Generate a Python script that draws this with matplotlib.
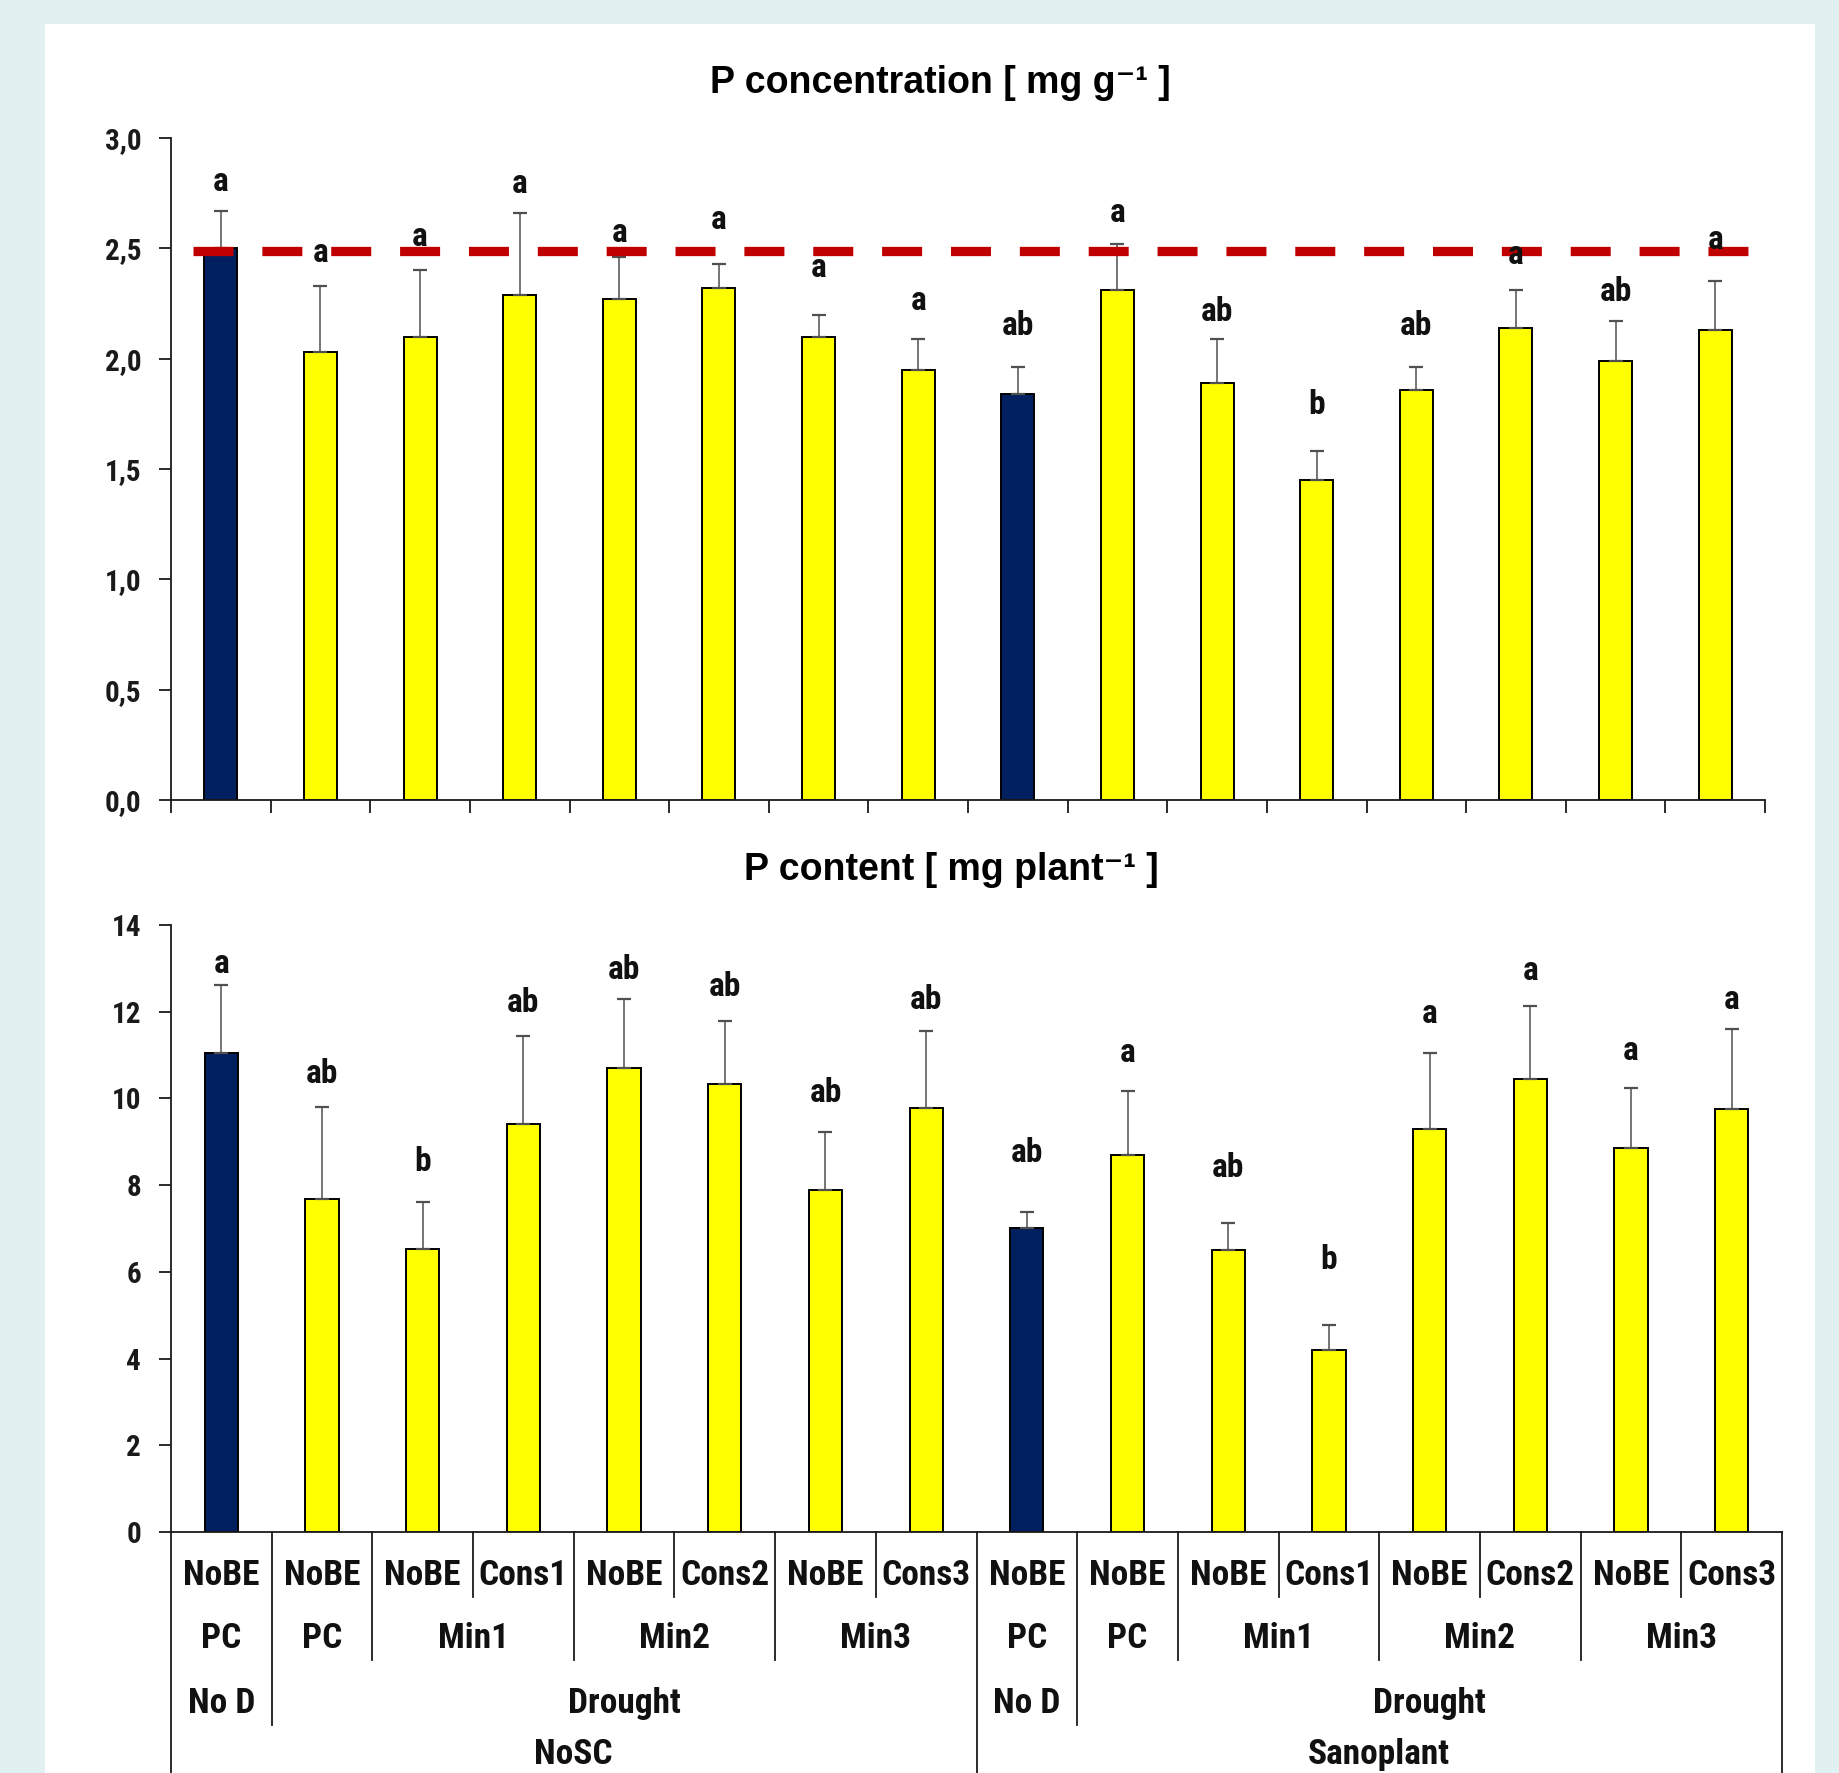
import numpy as np
import matplotlib.pyplot as plt
from matplotlib.patches import Rectangle

# --- datos ---
# P concentration [mg g-1]
conc_mean = [2.50, 2.03, 2.10, 2.29, 2.27, 2.32, 2.10, 1.95,
             1.84, 2.31, 1.89, 1.45, 1.86, 2.14, 1.99, 2.13]
conc_se = [0.17, 0.30, 0.30, 0.37, 0.19, 0.11, 0.10, 0.14,
           0.12, 0.21, 0.20, 0.13, 0.10, 0.17, 0.18, 0.22]
conc_letters = ['a', 'a', 'a', 'a', 'a', 'a', 'a', 'a',
                'ab', 'a', 'ab', 'b', 'ab', 'a', 'ab', 'a']
conc_letter_y = [2.80, 2.48, 2.55, 2.79, 2.57, 2.63, 2.41, 2.26,
                 2.15, 2.66, 2.21, 1.79, 2.15, 2.47, 2.30, 2.54]
conc_ref = 2.49
conc_ref_span = (-0.28, 15.34)
conc_ticks = [0.0, 0.5, 1.0, 1.5, 2.0, 2.5, 3.0]
conc_ticklabels = ['0,0', '0,5', '1,0', '1,5', '2,0', '2,5', '3,0']

# P content [mg plant-1]
cont_mean = [11.05, 7.69, 6.53, 9.42, 10.70, 10.34, 7.88, 9.78,
             7.01, 8.69, 6.50, 4.20, 9.29, 10.45, 8.85, 9.75]
cont_se = [1.57, 2.11, 1.08, 2.01, 1.59, 1.44, 1.35, 1.78,
           0.38, 1.49, 0.62, 0.57, 1.76, 1.68, 1.39, 1.84]
cont_letters = ['a', 'ab', 'b', 'ab', 'ab', 'ab', 'ab', 'ab',
                'ab', 'a', 'ab', 'b', 'a', 'a', 'a', 'a']
cont_letter_y = [13.11, 10.56, 8.53, 12.19, 12.97, 12.56, 10.13, 12.27,
                 8.75, 11.05, 8.39, 6.28, 11.94, 12.94, 11.10, 12.27]
cont_ticks = [0, 2, 4, 6, 8, 10, 12, 14]

# controles (sin sequia) en azul oscuro
is_control = [True, False, False, False, False, False, False, False,
              True, False, False, False, False, False, False, False]

# niveles del eje de categorias: (etiqueta, n de barras)
level1 = [(s, 1) for s in ['NoBE', 'NoBE', 'NoBE', 'Cons1', 'NoBE', 'Cons2', 'NoBE', 'Cons3'] * 2]
level2 = [('PC', 1), ('PC', 1), ('Min1', 2), ('Min2', 2), ('Min3', 2)] * 2
level3 = [('No D', 1), ('Drought', 7)] * 2
level4 = [('NoSC', 8), ('Sanoplant', 8)]

# --- estilo ---
W, H = 1839, 1773
BG = '#e1f1f2'
YELLOW = '#ffff00'
NAVY = '#002060'
RED = '#c00000'
BOLD = ['Liberation Sans', 'DejaVu Sans']
NARROW = ['Roboto Condensed', 'Liberation Sans Narrow', 'Liberation Sans', 'DejaVu Sans']

plt.rcParams['font.family'] = BOLD
plt.rcParams['font.weight'] = 'bold'

fig = plt.figure(figsize=(W / 100, H / 100), dpi=100)
fig.patch.set_facecolor(BG)
fig.patches.append(Rectangle((45 / W, 0), (1815 - 45) / W, 1 - 24 / H,
                             transform=fig.transFigure, facecolor='white',
                             edgecolor='none', zorder=-10))

ax1 = fig.add_axes([171 / W, 1 - 800 / H, (1765 - 171) / W, (800 - 138) / H])
ax2 = fig.add_axes([171 / W, 1 - 1532 / H, (1782 - 171) / W, (1532 - 925) / H])

x = np.arange(len(conc_mean))
colors = [NAVY if c else YELLOW for c in is_control]


def draw_bars(ax, mean, se, letters, letter_y):
    ax.bar(x, mean, width=0.33, color=colors, edgecolor='black',
           linewidth=1.4, zorder=2)
    ax.errorbar(x, mean, yerr=[np.zeros(len(se)), se], fmt='none',
                ecolor='#505050', elinewidth=1.1, capsize=5, capthick=1.6,
                zorder=3)
    for xi, lab, ly in zip(x, letters, letter_y):
        ax.text(xi, ly, lab, ha='center', va='center', fontsize=24,
                family=NARROW, fontweight='bold', color='#111111', zorder=5)


for ax in (ax1, ax2):
    ax.set_facecolor('none')
    ax.set_xlim(-0.5, len(x) - 0.5)
    for side in ('top', 'right'):
        ax.spines[side].set_visible(False)
    for side in ('left', 'bottom'):
        ax.spines[side].set_linewidth(1.3)
        ax.spines[side].set_color('#1a1a1a')
    ax.tick_params(axis='y', direction='out', length=8.5, width=1.3,
                   pad=13, labelsize=21, colors='#1a1a1a')
    for lab in ax.get_yticklabels():
        lab.set_family(NARROW)

# grafico superior
draw_bars(ax1, conc_mean, conc_se, conc_letters, conc_letter_y)
ax1.plot(conc_ref_span, [conc_ref, conc_ref], color=RED, lw=6.7,
         dashes=(4.3, 3.1), solid_capstyle='butt', dash_capstyle='butt',
         zorder=4)
ax1.set_ylim(0, 3)
ax1.set_yticks(conc_ticks)
ax1.set_yticklabels(conc_ticklabels, family=NARROW)
ax1.set_xticks(np.arange(-0.5, len(x), 1))
ax1.set_xticklabels([])
ax1.tick_params(axis='x', direction='out', length=9, width=1.3,
                colors='#1a1a1a')

# grafico inferior
draw_bars(ax2, cont_mean, cont_se, cont_letters, cont_letter_y)
ax2.set_ylim(0, 14)
ax2.set_yticks(cont_ticks)
ax2.set_yticklabels([str(t) for t in cont_ticks], family=NARROW)
ax2.set_xticks([])

# titulos
fig.text(940 / W, 1 - 93 / H, 'P concentration [ mg g\u207b\u00b9 ]',
         ha='center', va='baseline', fontsize=27, fontweight='bold')
fig.text(951 / W, 1 - 880 / H, 'P content [ mg plant\u207b\u00b9 ]',
         ha='center', va='baseline', fontsize=27, fontweight='bold')

# eje de categorias con varios niveles
levels = [level1, level2, level3, level4]
text_y = [-0.0873, -0.191, -0.298, -0.382]
line_y = [-0.107, -0.211, -0.318, -0.60]
trans = ax2.get_xaxis_transform()

depth = {}
for k, level in enumerate(levels):
    pos = 0
    depth[pos] = k
    for label, span in level:
        ax2.text(pos + span / 2 - 0.5, text_y[k], label, transform=trans,
                 ha='center', va='baseline', fontsize=25.5, family=NARROW,
                 fontweight='bold', color='#111111', clip_on=False)
        pos += span
        depth[pos] = k
for b, k in depth.items():
    ax2.plot([b - 0.5, b - 0.5], [0, line_y[k]], transform=trans,
             color='#1a1a1a', lw=1.3, clip_on=False, zorder=1)

fig.savefig('out.png', dpi=100, facecolor=fig.get_facecolor())
